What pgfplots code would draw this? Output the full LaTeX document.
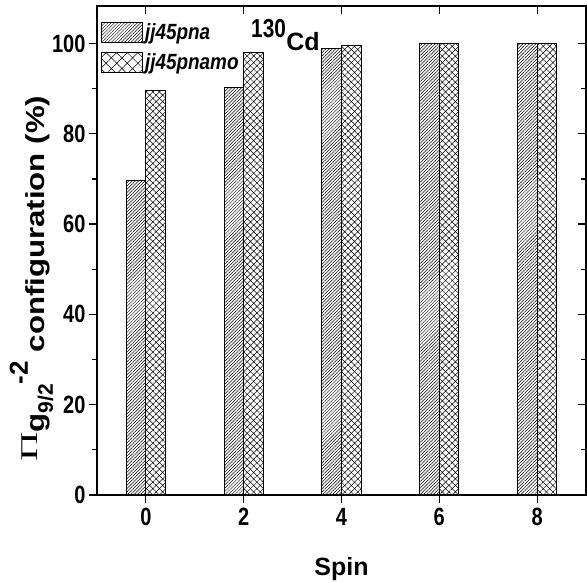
\documentclass[border=0pt]{standalone}
\usepackage{fontspec}
\setmainfont{Liberation Sans}
\newfontfamily\serifpi{Liberation Serif}
\newfontfamily\cond{Liberation Sans}[FakeStretch=0.8]
\newfontfamily\legf{Liberation Sans}[FakeStretch=0.86]
\newfontfamily\wide{Liberation Sans}[FakeStretch=1.2]
\usepackage{pgfplots}
\pgfplotsset{compat=1.18}
\usetikzlibrary{patterns.meta}
\usepackage{graphicx}
\pgfplotsset{
  boxlegendA/.style={legend image code/.code={\draw[##1] (-6pt,-10pt) rectangle (35pt,10pt);}},
  boxlegendB/.style={legend image code/.code={\draw[##1, pattern={Hatch[angle=45, distance=7.5pt, line width=0.5pt]}] (-6pt,-10pt) rectangle (35pt,10pt);}},
  common/.style={
    at={(0,0)}, anchor=south west,
    scale only axis, width=489pt, height=489pt,
    xmin=-1, xmax=9, ymin=0, ymax=108.3,
    xtick={0,2,4,6,8}, ytick={0,20,40,60,80,100},
    minor y tick num=1,
    axis line style={line width=1.3pt},
    major tick length=8pt, minor tick length=5pt,
    every tick/.style={line width=1.2pt, black},
  }
}
\begin{document}
\begin{tikzpicture}
\begin{axis}[common,
  xtick pos=left, ytick pos=left, tick align=outside,
  /pgf/number format/assume math mode=true,
  ticklabel style={font=\cond\bfseries\fontsize{25}{25}\selectfont},
  xticklabel style={yshift=-2pt},
  ybar=0pt, bar width=0.4,
  legend style={at={(rel axis cs:0.008,0.969)}, anchor=north west, draw=none, fill=none,
    font=\legf\bfseries\itshape\fontsize{22}{22}\selectfont, row sep=9pt,
    inner sep=0pt, /tikz/every even column/.append style={column sep=6pt}},
  legend cell align=left,
]
\addplot[draw=black, line width=0.9pt,
  pattern={Lines[angle=45, distance=2.3pt, line width=0.5pt]}, boxlegendA]
  coordinates {(0,69.6) (2,90.3) (4,98.8) (6,100) (8,100)};
\addplot[draw=black, line width=0.9pt,
  pattern={Hatch[angle=45, distance=4.6pt, line width=0.5pt]}, boxlegendB]
  coordinates {(0,89.5) (2,98.0) (4,99.6) (6,100) (8,100)};
\legend{jj45pna, jj45pnamo}
\node[anchor=base west, font=\cond\bfseries\fontsize{26}{26}\selectfont, inner sep=0pt]
  at (axis cs:2.15,101.4) {130};
\node[anchor=base west, font=\bfseries\fontsize{25}{25}\selectfont, inner sep=0pt]
  at (axis cs:2.87,98.5) {Cd};
\end{axis}
\begin{axis}[common,
  xtick pos=right, ytick pos=right, tick align=inside,
  xticklabels={}, yticklabels={},
]
\end{axis}
\node[anchor=base west, rotate=90, inner sep=0pt, font=\wide\bfseries\fontsize{26}{26}\selectfont]
  at (-52pt,33pt) {\raisebox{7pt}{\serifpi\mdseries\fontsize{24}{24}\selectfont\scalebox{1.7}[1]{Π}}g\raisebox{-8pt}{\fontspec{Liberation Sans}\bfseries\fontsize{21}{21}\selectfont 9/2}\raisebox{17pt}{\fontspec{Liberation Sans}\bfseries -2} configuration (\%)};
\node[anchor=base, inner sep=0pt, font=\bfseries\fontsize{25}{25}\selectfont]
  at (244.5pt,-81pt) {Spin};
\pgfresetboundingbox
\path (-97pt,-88pt) rectangle (490pt,495pt);
\end{tikzpicture}
\end{document}
